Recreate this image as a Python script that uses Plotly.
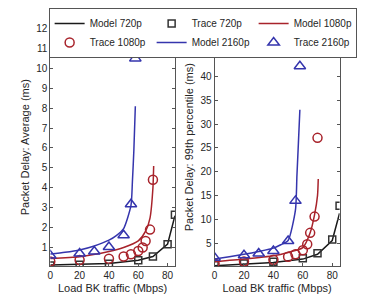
import plotly.graph_objects as go

# ---------------- data ----------------
# Left panel: average packet delay (ms)
model720_x = [0, 20, 40, 60, 70, 80, 85]
model720_avg = [0.12, 0.15, 0.2, 0.36, 0.55, 1.17, 2.6]
trace720_x = [0, 20, 40, 60, 70, 80, 85]
trace720_avg = [0.1, 0.13, 0.18, 0.36, 0.55, 1.17, 2.65]

model1080_x = [0, 20, 40, 50, 60, 65, 68, 70, 70.5]
model1080_avg = [0.45, 0.54, 0.8, 1.0, 1.33, 1.82, 2.48, 4.0, 5.1]
trace1080_x = [0, 20, 40, 50, 55, 60, 63, 65, 68, 70]
trace1080_avg = [0.3, 0.37, 0.44, 0.55, 0.66, 0.83, 1.0, 1.33, 1.9, 4.4]

model2160_x = [0, 10, 20, 30, 40, 45, 50, 55, 56, 57, 58]
model2160_avg = [0.67, 0.76, 0.88, 1.08, 1.37, 1.6, 1.95, 3.1, 4.3, 5.9, 8.1]
trace2160_x = [0, 20, 30, 40, 50, 55, 58]
trace2160_avg = [0.6, 0.7, 0.8, 1.03, 1.62, 3.17, 10.5]

# Right panel: 99th percentile packet delay (ms)
model720_p99 = [0.3, 0.6, 1.0, 1.7, 2.7, 5.6, 11.3]
trace720_p99 = [0.47, 0.8, 1.15, 1.9, 2.9, 5.8, 12.9]
model1080_p99 = [1.15, 1.7, 2.4, 3.1, 4.1, 7.2, 11.0, 15.0, 18.5]
trace1080_p99 = [0.8, 1.2, 1.57, 2.2, 2.7, 3.55, 4.8, 7.2, 10.6, 27.1]
model2160_p99 = [1.7, 2.2, 2.7, 3.3, 4.0, 4.7, 5.6, 12.0, 19.2, 26.0, 33.0]
trace2160_p99 = [2.0, 2.5, 2.87, 3.4, 5.5, 13.9, 42.1]

x_ticks = [0, 20, 40, 60, 80]
y_ticks_avg = [1, 2, 3, 4, 5, 6, 7, 8, 9, 10, 11, 12]
y_ticks_p99 = [5, 10, 15, 20, 25, 30, 35, 40, 45]

# ---------------- style ----------------
BLACK = "#1a1a1a"
RED = "#a8232b"
BLUE = "#3535ad"
AX = "#262626"
FONT = "Liberation Sans, Arial, sans-serif"

fig = go.Figure()


def add_panel(xa, ya, m720, t720, m1080, t1080, m2160, t2160, show):
    fig.add_trace(go.Scatter(x=model720_x, y=m720, mode="lines", name="Model 720p",
                             line=dict(color=BLACK, width=1.5), xaxis=xa, yaxis=ya,
                             showlegend=show))
    fig.add_trace(go.Scatter(x=trace720_x, y=t720, mode="markers", name="Trace 720p",
                             marker=dict(symbol="square-open", size=7, color="#333333",
                                         line=dict(width=1.5)),
                             xaxis=xa, yaxis=ya, showlegend=show))
    fig.add_trace(go.Scatter(x=model1080_x, y=m1080, mode="lines", name="Model 1080p",
                             line=dict(color=RED, width=1.5, shape="spline", smoothing=0.6),
                             xaxis=xa, yaxis=ya, showlegend=show))
    fig.add_trace(go.Scatter(x=trace1080_x, y=t1080, mode="markers", name="Trace 1080p",
                             marker=dict(symbol="circle-open", size=9, color=RED,
                                         line=dict(width=1.5)),
                             xaxis=xa, yaxis=ya, showlegend=show))
    fig.add_trace(go.Scatter(x=model2160_x, y=m2160, mode="lines", name="Model 2160p",
                             line=dict(color=BLUE, width=1.5, shape="spline", smoothing=0.6),
                             xaxis=xa, yaxis=ya, showlegend=show))
    fig.add_trace(go.Scatter(x=trace2160_x, y=t2160, mode="markers", name="Trace 2160p",
                             marker=dict(symbol="triangle-up-open", size=10, color=BLUE,
                                         line=dict(width=1.5)),
                             xaxis=xa, yaxis=ya, showlegend=show))


add_panel("x", "y", model720_avg, trace720_avg, model1080_avg, trace1080_avg,
          model2160_avg, trace2160_avg, True)
add_panel("x2", "y2", model720_p99, trace720_p99, model1080_p99, trace1080_p99,
          model2160_p99, trace2160_p99, False)

axis_common = dict(showline=True, linecolor="#555555", linewidth=1, mirror="ticks",
                   ticks="inside", ticklen=3, tickcolor="#555555", showgrid=False,
                   zeroline=False, tickfont=dict(size=10, color=AX, family=FONT))

fig.update_layout(
    width=374, height=299,
    margin=dict(l=0, r=0, t=0, b=0),
    paper_bgcolor="white", plot_bgcolor="white",
    font=dict(family=FONT, color=AX),
    xaxis=dict(domain=[0.1275, 0.4634], range=[0, 85], tickvals=x_ticks,
               title=dict(text="Load BK traffic (Mbps)", font=dict(size=11), standoff=4),
               anchor="y", **axis_common),
    yaxis=dict(domain=[0.1114, 0.9214], range=[0.06, 12.02], tickvals=y_ticks_avg,
               title=dict(text="Packet Delay: Average (ms)", font=dict(size=11), standoff=4),
               anchor="x", **axis_common),
    xaxis2=dict(domain=[0.5703, 0.9072], range=[0, 85], tickvals=x_ticks,
                title=dict(text="Load BK traffic (Mbps)", font=dict(size=11), standoff=4),
                anchor="y2", **axis_common),
    yaxis2=dict(domain=[0.1114, 0.9214], range=[0.2, 50.1], tickvals=y_ticks_p99,
                title=dict(text="Packet Delay: 99th percentile (ms)", font=dict(size=11), standoff=4),
                anchor="x2", **axis_common),
    legend=dict(orientation="h", x=0.123, y=0.99, xanchor="left", yanchor="top",
                bgcolor="white", bordercolor="#555555", borderwidth=1,
                font=dict(size=10, color=AX, family=FONT),
                itemwidth=30, entrywidth=57, tracegroupgap=0),
)

fig.write_html("out.html", config={"displayModeBar": False},
               post_script="document.body.style.margin='0';")
